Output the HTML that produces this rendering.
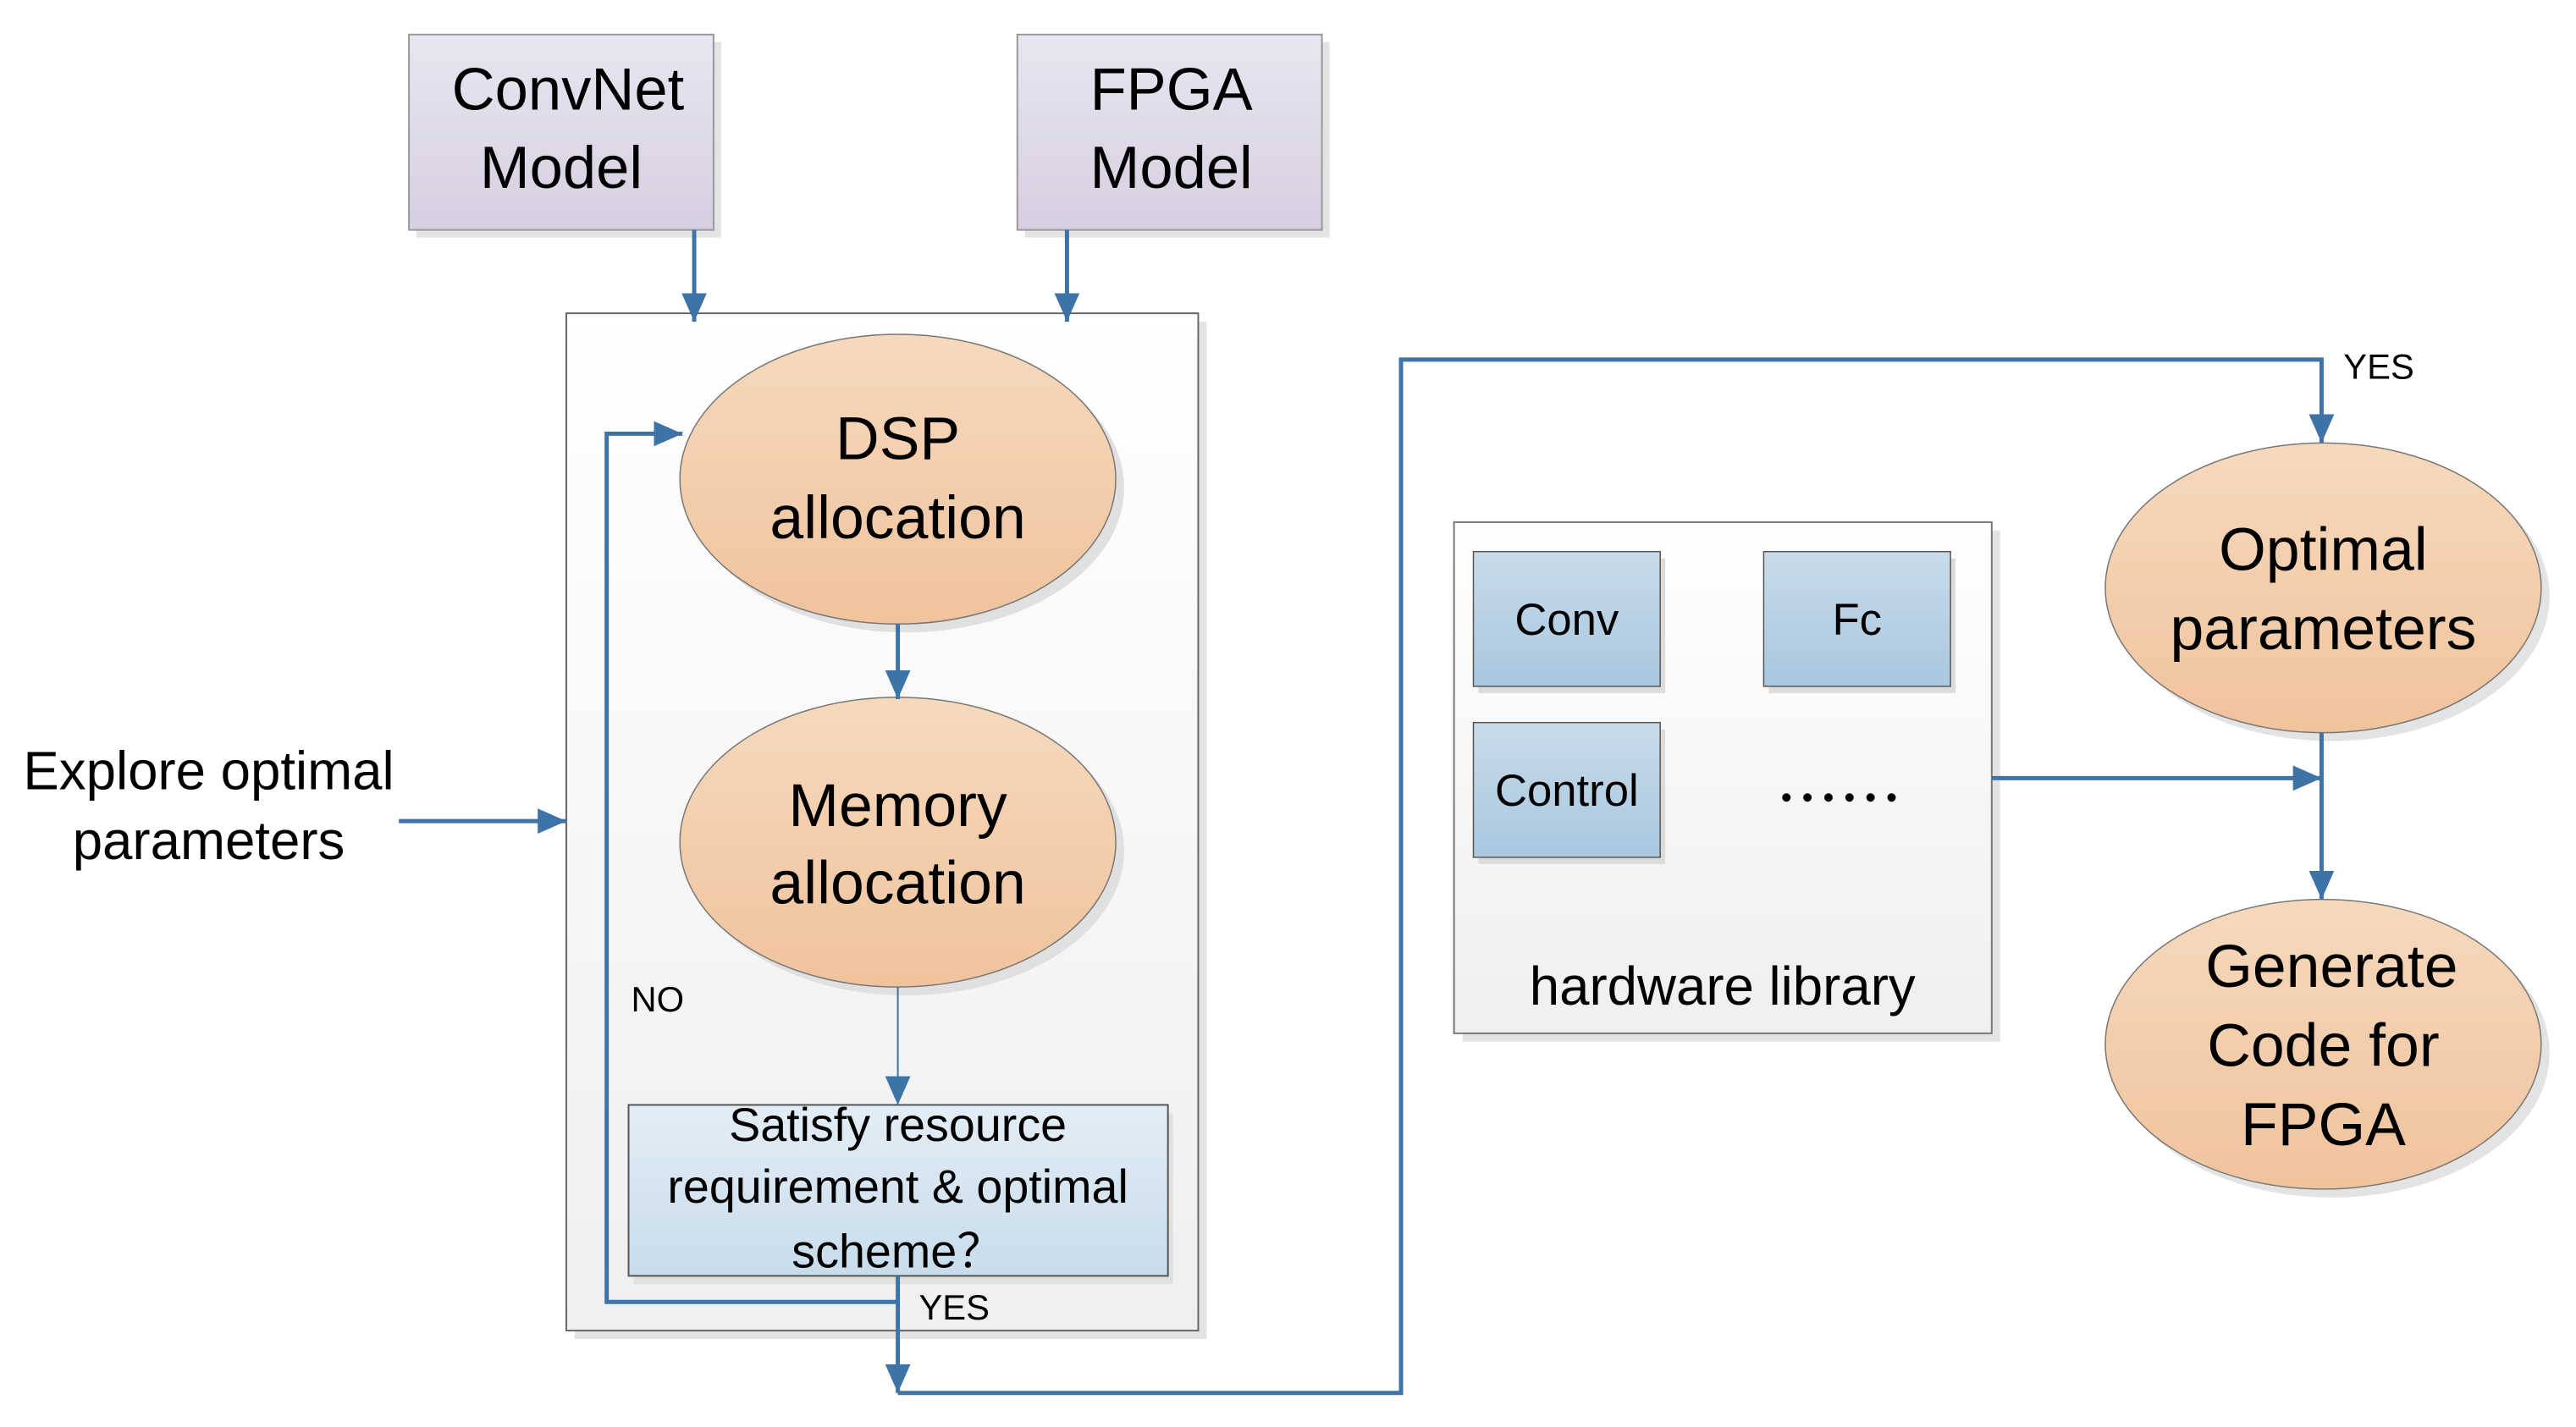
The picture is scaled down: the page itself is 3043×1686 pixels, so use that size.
<!DOCTYPE html>
<html><head><meta charset="utf-8"><style>
html,body{margin:0;padding:0;background:#fff;}
svg{display:block;}
text{font-family:"Liberation Sans",sans-serif;fill:#000;}
</style></head><body>
<svg width="3043" height="1686" viewBox="0 0 3043 1686" xmlns="http://www.w3.org/2000/svg">
<defs>
<linearGradient id="pur" x1="0" y1="0" x2="0" y2="1"><stop offset="0" stop-color="#e8e5f0"/><stop offset="1" stop-color="#d6cfe2"/></linearGradient>
<linearGradient id="org" x1="0" y1="0" x2="0" y2="1"><stop offset="0" stop-color="#f6d9bd"/><stop offset="1" stop-color="#f0c39c"/></linearGradient>
<linearGradient id="blu" x1="0" y1="0" x2="0" y2="1"><stop offset="0" stop-color="#c8dbea"/><stop offset="1" stop-color="#a9c7de"/></linearGradient>
<linearGradient id="lblu" x1="0" y1="0" x2="0" y2="1"><stop offset="0" stop-color="#e3edf6"/><stop offset="1" stop-color="#c8dcea"/></linearGradient>
<linearGradient id="gry" x1="0" y1="0" x2="0" y2="1"><stop offset="0" stop-color="#ffffff"/><stop offset="1" stop-color="#efefef"/></linearGradient>
<marker id="ar" markerWidth="34" markerHeight="30" refX="34" refY="15" orient="auto" markerUnits="userSpaceOnUse" viewBox="0 0 34 30"><path d="M0,0 L34,15 L0,30z" fill="#3e73a8"/></marker>
</defs>
<g transform="scale(0.994,0.995)">
<g fill="#e3e3e3">
<rect x="495" y="50" width="362" height="232"/>
<rect x="1218" y="50" width="362" height="232"/>
<rect x="683" y="382" width="751" height="1208"/>
<rect x="1738" y="630" width="639" height="607"/>
<ellipse cx="2771" cy="708" rx="259" ry="172"/>
<ellipse cx="2771" cy="1250" rx="259" ry="172"/>
</g>
<rect x="486" y="41" width="362" height="232" fill="url(#pur)" stroke="#999" stroke-width="2"/>
<rect x="1209" y="41" width="362" height="232" fill="url(#pur)" stroke="#999" stroke-width="2"/>
<text x="675" y="130" font-size="71" text-anchor="middle">ConvNet</text>
<text x="667" y="223" font-size="71" text-anchor="middle">Model</text>
<text x="1392" y="130" font-size="71" text-anchor="middle">FPGA</text>
<text x="1392" y="223" font-size="71" text-anchor="middle">Model</text>

<rect x="673" y="372" width="751" height="1208" fill="url(#gry)" stroke="#666" stroke-width="2"/>
<ellipse cx="1077" cy="579" rx="259" ry="172" fill="#e0e0e0"/>
<ellipse cx="1067" cy="569" rx="259" ry="172" fill="url(#org)" stroke="#777" stroke-width="1.5"/>
<text x="1067" y="545" font-size="72" text-anchor="middle">DSP</text>
<text x="1067" y="639" font-size="72" text-anchor="middle">allocation</text>
<ellipse cx="1077" cy="1010" rx="259" ry="172" fill="#e0e0e0"/>
<ellipse cx="1067" cy="1000" rx="259" ry="172" fill="url(#org)" stroke="#777" stroke-width="1.5"/>
<text x="1067" y="981" font-size="72" text-anchor="middle">Memory</text>
<text x="1067" y="1073" font-size="72" text-anchor="middle">allocation</text>
<rect x="753" y="1322" width="641" height="203" fill="#e0e0e0"/>
<rect x="747" y="1312" width="641" height="203" fill="url(#lblu)" stroke="#555" stroke-width="2"/>
<text x="1067" y="1355" font-size="56" text-anchor="middle">Satisfy resource</text>
<text x="1067" y="1428" font-size="56" text-anchor="middle">requirement &amp; optimal</text>
<text x="1067" y="1505" font-size="56" text-anchor="middle">scheme？</text>
<text x="750" y="1201" font-size="42">NO</text>
<text x="1092" y="1567" font-size="42">YES</text>

<text x="248" y="937" font-size="64" text-anchor="middle">Explore optimal</text>
<text x="248" y="1020" font-size="64" text-anchor="middle">parameters</text>

<rect x="1728" y="620" width="639" height="607" fill="url(#gry)" stroke="#777" stroke-width="2"/>
<rect x="1757" y="663" width="222" height="160" fill="#dcdcdc"/>
<rect x="2102" y="663" width="222" height="160" fill="#dcdcdc"/>
<rect x="1757" y="866" width="222" height="160" fill="#dcdcdc"/>
<rect x="1751" y="655" width="222" height="160" fill="url(#blu)" stroke="#555" stroke-width="1.5"/>
<rect x="2096" y="655" width="222" height="160" fill="url(#blu)" stroke="#555" stroke-width="1.5"/>
<rect x="1751" y="858" width="222" height="160" fill="url(#blu)" stroke="#555" stroke-width="1.5"/>
<text x="1862" y="754" font-size="53" text-anchor="middle">Conv</text>
<text x="2207" y="754" font-size="53" text-anchor="middle">Fc</text>
<text x="1862" y="957" font-size="53" text-anchor="middle">Control</text>
<g fill="#000"><circle cx="2123" cy="947" r="5"/><circle cx="2148" cy="947" r="5"/><circle cx="2173" cy="947" r="5"/><circle cx="2198" cy="947" r="5"/><circle cx="2223" cy="947" r="5"/><circle cx="2248" cy="947" r="5"/></g>
<text x="2047" y="1193" font-size="64" text-anchor="middle">hardware library</text>

<ellipse cx="2761" cy="698" rx="259" ry="172" fill="url(#org)" stroke="#777" stroke-width="1.5"/>
<text x="2761" y="677" font-size="72" text-anchor="middle">Optimal</text>
<text x="2761" y="771" font-size="72" text-anchor="middle">parameters</text>
<ellipse cx="2761" cy="1240" rx="259" ry="172" fill="url(#org)" stroke="#777" stroke-width="1.5"/>
<text x="2771" y="1172" font-size="72" text-anchor="middle">Generate</text>
<text x="2761" y="1266" font-size="72" text-anchor="middle">Code for</text>
<text x="2761" y="1360" font-size="72" text-anchor="middle">FPGA</text>
<text x="2785" y="450" font-size="42">YES</text>

<g stroke="#3e73a8" stroke-width="5" fill="none">
<path d="M825,273 V382" marker-end="url(#ar)"/>
<path d="M1268,273 V382" marker-end="url(#ar)"/>
<path d="M474,975 H673" marker-end="url(#ar)"/>
<path d="M1067,741 V830" marker-end="url(#ar)"/>
<path d="M1067,1172 V1312" stroke-width="2" marker-end="url(#ar)"/>
<path d="M1067,1546 H721 V515 H811" marker-end="url(#ar)"/>
<path d="M1067,1515 V1654" marker-end="url(#ar)"/>
<path d="M1067,1654 H1665 V427 H2759 V526" marker-end="url(#ar)"/>
<path d="M2367,924 H2759" marker-end="url(#ar)"/>
<path d="M2759,870 V1068" marker-end="url(#ar)"/>
</g>
</g>
</svg>
</body></html>
